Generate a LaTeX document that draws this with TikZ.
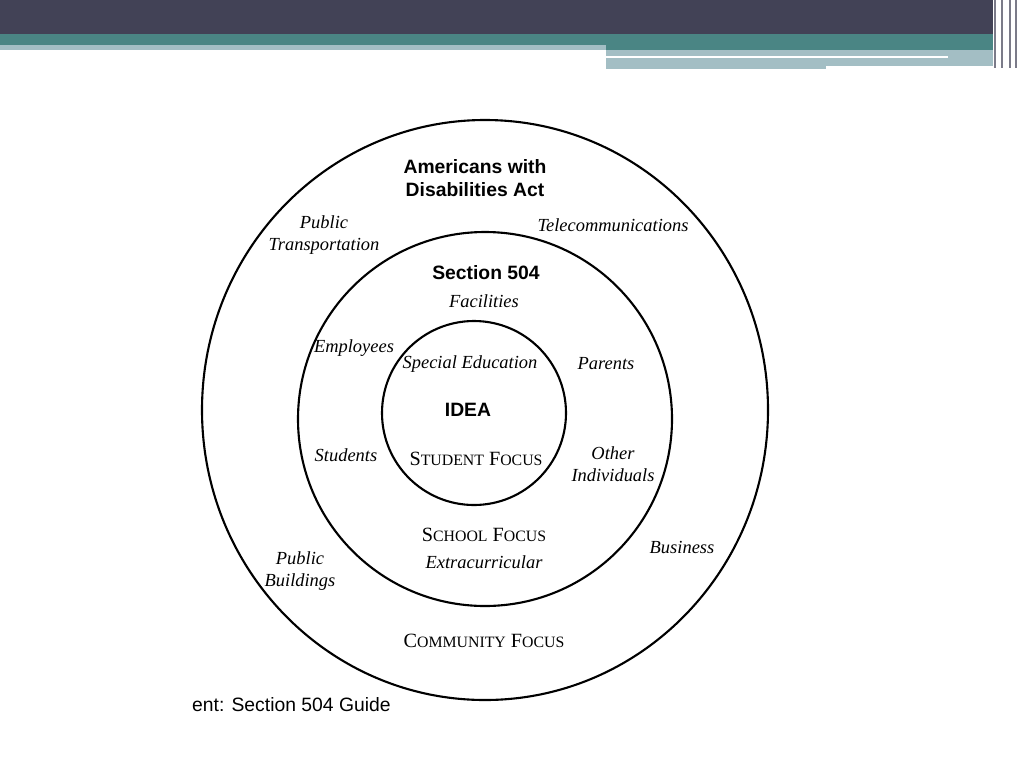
\documentclass[tikz,border=0pt]{standalone}
\usepackage{fontspec}
\setmainfont{Liberation Serif}
\setsansfont{Liberation Sans}
\usetikzlibrary{positioning}
\definecolor{barDark}{HTML}{424256}
\definecolor{barTeal}{HTML}{4A8584}
\definecolor{barLight}{HTML}{A3BEC4}
\newcommand{\fsc}[2]{#1{\fontsize{9}{11}\selectfont #2}}
\tikzset{
  ring/.style={draw, line width=1.2pt},
  head/.style={font=\sffamily\bfseries\fontsize{11}{13.5}\selectfont, align=center},
  item/.style={font=\itshape\fontsize{10.5}{12.5}\selectfont, align=center},
  focus/.style={font=\fontsize{11.5}{14}\selectfont}
}
\begin{document}
\begin{tikzpicture}[x=0.02cm, y=-0.02cm]
\useasboundingbox (0,0) rectangle (1024,768);
% header bars
\fill[barDark] (0,0) rectangle (993,34);
\fill[barTeal] (0,34) rectangle (993,50);
\fill[barLight] (0,45) rectangle (606,50);
\fill[barLight] (606,50) rectangle (993,66);
\fill[barLight] (606,66) rectangle (826,69);
\fill[white] (606,56) rectangle (948,58);
\foreach \xx in {995,1002,1010,1016}
  \draw[barDark!70, line width=0.6pt] (\xx,0) -- (\xx,68);

% rings
\draw[ring] (485,410) ellipse (283 and 290);
\draw[ring] (485,419) circle (187);
\draw[ring] (474,413) circle (92);

% outer ring: ADA
\node[head] (ada) at (475,178) {Americans with\\Disabilities Act};
\node[item] (transport) at (324,235) {Public\\Transportation};
\node[item] (telecom) at (613,225) {Telecommunications};
\node[item] (buildings) at (300,571) {Public\\Buildings};
\node[item] (business) at (682,547) {Business};
\node[focus] (community) at (484,641) {\fsc{C}{OMMUNITY} \fsc{F}{OCUS}};

% middle ring: Section 504
\node[head] (sec) at (486,273) {Section 504};
\node[item] (facilities) at (484,301) {Facilities};
\node[item] (employees) at (354,348) {Employees};
\node[item] (parents) at (606,364) {Parents};
\node[item] (students) at (346,455) {Students};
\node[item] (others) at (613,464) {Other\\Individuals};
\node[focus] (school) at (484,535) {\fsc{S}{CHOOL} \fsc{F}{OCUS}};
\node[item] (extra) at (484,562) {Extracurricular};

% inner ring: IDEA
\node[item] (special) at (470,364) {Special Education};
\node[head] (idea) at (468,410) {IDEA};
\node[focus] (student) at (476,459) {\fsc{S}{TUDENT} \fsc{F}{OCUS}};

% source
\node[anchor=west, font=\sffamily\fontsize{11}{13}\selectfont] (src) at (186,705) {ent: Section 504 Guide};
\end{tikzpicture}
\end{document}
